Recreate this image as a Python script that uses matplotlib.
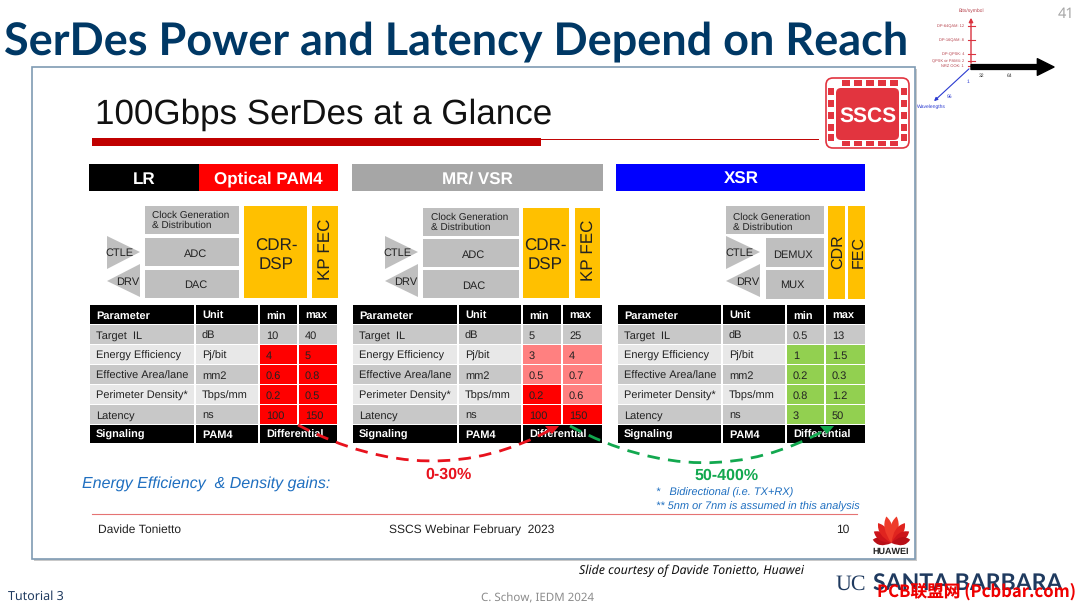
import matplotlib
matplotlib.use('Agg')
import matplotlib.pyplot as plt
from matplotlib.patches import Rectangle, Polygon, PathPatch, FancyBboxPatch
from matplotlib.path import Path
import numpy as np

plt.rcParams['font.family'] = ['Liberation Sans', 'DejaVu Sans']
plt.rcParams['text.hinting'] = 'no_hinting'
plt.rcParams['text.hinting_factor'] = 1

# table contents
columns = ['Parameter', 'Unit', 'min', 'max']
parameters = ['Target  IL', 'Energy Efficiency', 'Effective Area/lane', 'Perimeter Density*', 'Latency']
units = ['dB', 'Pj/bit', 'mm2', 'Tbps/mm', 'ns']
lr_min = ['10', '4', '0.6', '0.2', '100']
lr_max = ['40', '5', '0.8', '0.5', '150']
mr_min = ['5', '3', '0.5', '0.2', '100']
mr_max = ['25', '4', '0.7', '0.6', '150']
xsr_min = ['0.5', '1', '0.2', '0.8', '3']
xsr_max = ['13', '1.5', '0.3', '1.2', '50']
last_row = ['Signaling', 'PAM4', 'Differential']

GREY = '#c8c8c8'
LIGHT = '#e8e8e8'
RED = '#ff0000'
PINK = '#ff8080'
GREEN = '#92d050'
lr_fill = [GREY, RED, RED, RED, RED]
mr_fill_min = [GREY, PINK, PINK, RED, RED]
mr_fill_max = [GREY, PINK, PINK, PINK, RED]
xsr_fill = [GREY, GREEN, GREEN, GREEN, GREEN]

# small axis sketch in the corner
bits_labels = ['DP-64QAM: 12', 'DP-16QAM: 8', 'DP-QPSK: 4', 'QPSK or PAM4: 2', 'NRZ OOK: 1']
bits_y = [26, 40, 54, 60.5, 65.5]

fig = plt.figure(figsize=(10.8, 6.04), dpi=100)
ax = fig.add_axes([0, 0, 1, 1])
ax.set_xlim(0, 1080)
ax.set_ylim(604, 0)
ax.axis('off')


def box(x0, y0, x1, y1, color, z=2):
    ax.add_patch(Rectangle((x0, y0), x1 - x0, y1 - y0, facecolor=color, edgecolor='none', zorder=z))


def label(x, y, s, size=8, color='#222222', ha='center', **kw):
    ax.text(x, y, s, fontsize=size, color=color, ha=ha, va='center_baseline', zorder=5,
            rotation_mode='anchor', **kw)


def table(xs, mins, maxs, fill_min, fill_max):
    rows = [305, 325, 345, 365, 385, 405, 425, 443]
    gap = 0.8
    for i in range(4):
        box(xs[i] + gap, rows[0], xs[i + 1] - gap, rows[1] - gap, 'black')
        label(xs[i] + 7, 315, columns[i], 7.8, 'white', ha='left', fontweight='bold')
    for r in range(5):
        y0, y1 = rows[r + 1], rows[r + 2]
        ym = (y0 + y1) / 2
        bg = GREY if r % 2 == 0 else LIGHT
        box(xs[0] + gap, y0, xs[1] - gap, y1 - gap, bg)
        box(xs[1] + gap, y0, xs[2] - gap, y1 - gap, bg)
        box(xs[2] + gap, y0, xs[3] - gap, y1 - gap, fill_min[r])
        box(xs[3] + gap, y0, xs[4] - gap, y1 - gap, fill_max[r])
        label(xs[0] + 7, ym, parameters[r], 7.9, ha='left')
        label(xs[1] + 7, ym, units[r], 7.9, ha='left')
        label(xs[2] + 7, ym, mins[r], 7.9, ha='left')
        label(xs[3] + 7, ym, maxs[r], 7.9, ha='left')
    box(xs[0] + gap, rows[6], xs[1] - gap, rows[7], 'black')
    box(xs[1] + gap, rows[6], xs[2] - gap, rows[7], 'black')
    box(xs[2] + gap, rows[6], xs[4] - gap, rows[7], 'black')
    label(xs[0] + 7, 434, last_row[0], 7.8, 'white', ha='left', fontweight='bold')
    label(xs[1] + 7, 434, last_row[1], 7.8, 'white', ha='left', fontweight='bold')
    label(xs[2] + 7, 434, last_row[2], 7.8, 'white', ha='left', fontweight='bold')


def triangles(x0, x1):
    ax.add_patch(Polygon([(x0, 236), (x0, 269), (x1, 252)], facecolor='#bfbfbf', edgecolor='none', zorder=2))
    ax.add_patch(Polygon([(x1, 264), (x1, 297), (x0, 281)], facecolor='#bfbfbf', edgecolor='none', zorder=2))
    label(x0 + 13, 252, 'CTLE', 7.6)
    label(x1 - 12, 281, 'DRV', 7.6)


def arc(p0, p1, p2, color, tip):
    path = Path([p0, p1, p2], [Path.MOVETO, Path.CURVE3, Path.CURVE3])
    ax.add_patch(PathPatch(path, facecolor='none', edgecolor=color, lw=2, ls=(0, (4.5, 3)), zorder=6))
    ax.add_patch(Polygon([(tip - 7, 426), (tip + 7, 426), (tip, 434)], facecolor=color, edgecolor='none', zorder=6))


def petal(cx, cy, angle, length, width, color):
    # lens shape fanning out of the logo centre, angle from vertical
    a = np.radians(angle)
    d = np.array([np.sin(a), -np.cos(a)])
    n = np.array([d[1], -d[0]])
    c = np.array([cx, cy])
    tip = c + d * length
    mid = c + d * length * 0.62
    verts = [c, mid + n * width, tip, mid - n * width, c]
    codes = [Path.MOVETO, Path.CURVE3, Path.CURVE3, Path.CURVE3, Path.CURVE3]
    ax.add_patch(PathPatch(Path(verts, codes), facecolor=color, edgecolor='none', zorder=3))


# page title
ax.text(4, 38, 'SerDes Power and Latency Depend on Reach', fontsize=32.2, color='#003865',
        family='Lato', fontweight='bold', va='center_baseline', ha='left')
label(1066, 12, '41', 10.5, '#a6a6a6', family='Noto Sans')

# slide frame
box(34, 69, 917, 561, '#c9c9c9', 0)
ax.add_patch(Rectangle((32, 67), 883, 492, facecolor='white', edgecolor='#7f9bb3', lw=1.2, zorder=1))

# slide title
label(95, 111, '100Gbps SerDes at a Glance', 25, '#111111', ha='left')
box(92, 138, 541, 146, '#c00000')
ax.plot([541, 818], [138.5, 138.5], color='#c00000', lw=0.7, zorder=2)

# SSCS logo
ax.add_patch(FancyBboxPatch((829, 81), 77, 64, boxstyle='round,pad=3,rounding_size=7', facecolor='white',
                            edgecolor='#e2343f', lw=1.2, zorder=2))
ax.add_patch(FancyBboxPatch((839, 91), 57, 46, boxstyle='round,pad=3,rounding_size=5', facecolor='#e2343f',
                            edgecolor='none', zorder=3))
for t in [842, 854, 866, 878, 890]:
    box(t, 80, t + 7.5, 85.5, '#e2343f', 3)
    box(t, 140.5, t + 7.5, 146, '#e2343f', 3)
for t in [88, 100, 112, 124, 134]:
    box(828, t, 834, t + 6.5, '#e2343f', 3)
    box(901, t, 907, t + 6.5, '#e2343f', 3)
label(867.5, 114, 'SSCS', 15, 'white', fontweight='bold')

# section bars
box(89, 164, 199, 191, 'black')
box(199, 164, 338, 191, RED)
box(352, 164, 603, 191, '#a6a6a6')
box(616, 164, 865, 191, '#0000ff')
label(144, 177.5, 'LR', 12, 'white', fontweight='bold')
label(268, 177.5, 'Optical PAM4', 12, 'white', fontweight='bold')
label(477, 177.5, 'MR/ VSR', 12, 'white', fontweight='bold')
label(741, 177.5, 'XSR', 12, 'white', fontweight='bold')

# LR blocks
box(145, 206, 239, 234, '#bfbfbf')
box(145, 238, 239, 266, '#bfbfbf')
box(145, 270, 239, 298, '#bfbfbf')
box(244, 206, 307, 298, '#ffc000')
box(312, 206, 338, 298, '#ffc000')
label(152, 219, 'Clock Generation\n& Distribution', 7.2, ha='left', linespacing=1.15)
label(196, 253, 'ADC', 7.6)
label(196, 284, 'DAC', 7.6)
label(276, 253, 'CDR-\nDSP', 12.5, linespacing=1.2)
label(325, 249, 'KP FEC', 12, rotation=90)
triangles(107, 140)

# MR blocks
box(423, 208, 519, 236, '#bfbfbf')
box(423, 239, 519, 267, '#bfbfbf')
box(423, 270, 519, 298, '#bfbfbf')
box(523, 208, 569, 298, '#ffc000')
box(575, 208, 600, 298, '#ffc000')
label(431, 221, 'Clock Generation\n& Distribution', 7.2, ha='left', linespacing=1.15)
label(474, 254, 'ADC', 7.6)
label(474, 285, 'DAC', 7.6)
label(545, 253, 'CDR-\nDSP', 12.5, linespacing=1.2)
label(588, 250, 'KP FEC', 12, rotation=90)
triangles(385, 418)

# XSR blocks
box(726, 206, 824, 234, '#bfbfbf')
box(766, 238, 824, 267, '#bfbfbf')
box(766, 270, 824, 299, '#bfbfbf')
box(828, 206, 845, 299, '#ffc000')
box(848, 206, 865, 299, '#ffc000')
label(733, 221, 'Clock Generation\n& Distribution', 7.2, ha='left', linespacing=1.15)
label(793, 254, 'DEMUX', 7.6)
label(792, 284, 'MUX', 7.6)
label(836.5, 252, 'CDR', 11.5, rotation=90)
label(856.5, 252, 'FEC', 11.5, rotation=90)
triangles(726, 760)

# tables
table([89, 195, 259, 298, 338], lr_min, lr_max, lr_fill, lr_fill)
table([352, 458, 522, 562, 603], mr_min, mr_max, mr_fill_min, mr_fill_max)
table([617, 722, 786, 825, 866], xsr_min, xsr_max, xsr_fill, xsr_fill)

# gain arcs
arc((298, 425), (432, 495), (552, 429), '#e8121d', 552)
arc((570, 426), (705, 498), (827, 429), '#12a84f', 827)
label(449, 473, '0-30%', 11.5, '#e8121d', fontweight='bold')
label(727, 474, '50-400%', 11.5, '#12a84f', fontweight='bold')

label(82, 482, 'Energy Efficiency  & Density gains:', 11.75, '#1f6fc0', ha='left', style='italic')
label(656, 492, '*   Bidirectional (i.e. TX+RX)', 7.6, '#1f6fc0', ha='left', style='italic')
label(656, 506, '** 5nm or 7nm is assumed in this analysis', 7.6, '#1f6fc0', ha='left', style='italic')
ax.plot([92, 857], [514, 514], color='#e57373', lw=0.8, zorder=2)

# slide footer
label(98, 529, 'Davide Tonietto', 8.9, ha='left')
label(389, 529, 'SSCS Webinar February  2023', 8.9, ha='left')
label(843, 529, '10', 8.9)

# huawei petals
petal_angles = [-80, -57, -34, -11, 11, 34, 57, 80]
petal_lengths = [19, 21, 24, 27, 27, 24, 21, 19]
petal_colors = ['#b80f17', '#cc141b', '#e0241f', '#ee3b2a', '#ee3b2a', '#e0241f', '#cc141b', '#b80f17']
for a, l, c in zip(petal_angles, petal_lengths, petal_colors):
    petal(891.5, 543, a, l, 8, c)
label(891, 551, 'HUAWEI', 6.6, '#222222', fontweight='bold')

# corner sketch
ax.annotate('', xy=(971, 15), xytext=(971, 66), arrowprops=dict(arrowstyle='-|>', color='#d9333f', lw=1, mutation_scale=6))
for y, s in zip(bits_y, bits_labels):
    ax.plot([968, 975], [y, y], color='#d9333f', lw=0.8)
    label(964, y, s, 2.9, '#b5404a', ha='right')
label(971, 10, 'Bits/symbol', 3.4, '#b5404a')
ax.annotate('', xy=(1054, 67), xytext=(971, 67), arrowprops=dict(width=3.5, headwidth=12, headlength=12, color='black', shrink=0))
ax.annotate('', xy=(932, 103), xytext=(971, 67), arrowprops=dict(arrowstyle='-|>', color='#2a3ad0', lw=0.8, mutation_scale=5))
label(982, 75, '32', 3.4, '#333333')
label(1010, 75, '64', 3.4, '#333333')
label(968, 81, '1', 3.4, '#2a3ad0')
label(950, 96, '96', 3.4, '#2a3ad0')
label(931, 106, 'Wavelengths', 3.4, '#2a3ad0')

# page footer
label(579, 569, 'Slide courtesy of Davide Tonietto, Huawei', 8.9, '#111111', ha='left', style='italic',
      family='Noto Sans')
label(8, 595, 'Tutorial 3', 9, '#1f3a5f', ha='left', family='Noto Sans')
label(538, 597, 'C. Schow, IEDM 2024', 8.3, '#8c8c8c', family='Noto Sans')
label(836, 582, 'UC', 15.5, '#1f3a5f', ha='left', family='Liberation Serif')
label(873, 582, 'SANTA BARBARA', 16.7, '#1f3a5f', ha='left', fontweight='bold', family='Lato')
ax.text(877, 590, 'PCB联盟网 (Pcbbar.com)', fontsize=12, color='#ee0000', ha='left', va='center_baseline', zorder=7,
        fontweight='bold', family=['Noto Sans CJK SC', 'DejaVu Sans'])

fig.savefig('out.png', dpi=100)
